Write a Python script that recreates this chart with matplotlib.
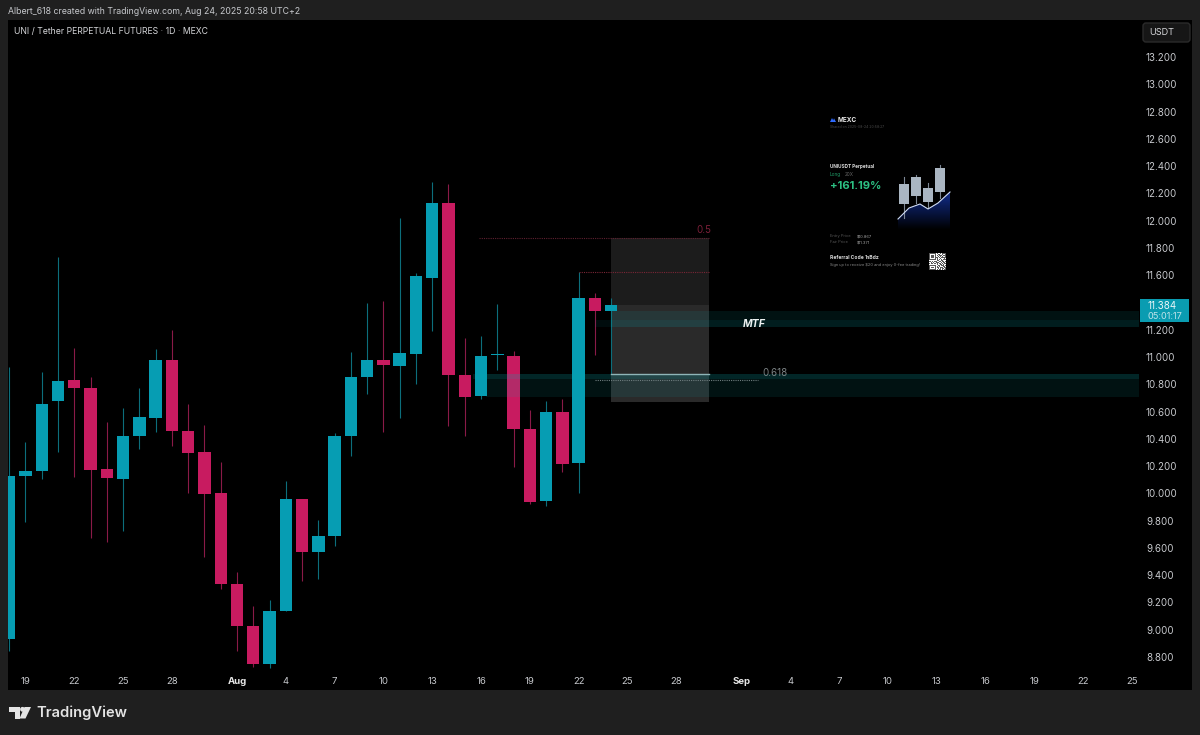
import matplotlib
matplotlib.use("Agg")
import matplotlib.pyplot as plt
import numpy as np
from matplotlib.patches import Rectangle, Polygon, FancyBboxPatch

plt.rcParams['font.family'] = ['Inter', 'DejaVu Sans']

# ---- data ----
opens = [8.932,10.127,10.167,10.677,10.829,10.775,10.176,10.108,10.421,10.555,10.981,10.455,10.301,10.000,9.335,9.027,8.749,9.137,
         9.956,9.570,9.687,10.421,10.856,10.976,10.934,11.022,11.582,12.129,10.870,10.712,11.012,11.010,10.475,9.941,10.599,10.220,11.433,11.337]
highs = [10.929,10.379,10.888,11.736,11.064,10.851,10.523,10.626,10.770,11.059,11.198,10.655,10.501,10.233,9.421,9.174,9.218,10.091,
         9.956,9.805,10.443,11.039,11.394,11.408,12.017,11.614,12.281,12.269,11.137,11.152,11.386,11.044,10.611,10.675,10.690,11.621,11.472,11.430]
lows = [8.844,9.792,10.105,10.306,10.118,9.675,9.641,9.724,10.325,10.452,10.350,10.005,9.536,9.299,8.844,8.727,8.719,9.137,
        9.360,9.374,9.614,10.274,10.729,10.450,10.555,10.805,11.193,10.497,10.421,10.692,10.905,10.196,9.920,9.905,10.157,10.000,11.012,10.875]
closes = [10.127,10.167,10.655,10.827,10.775,10.169,10.115,10.421,10.558,10.978,10.455,10.299,9.993,9.338,9.030,8.751,9.137,9.956,
          9.568,9.687,10.421,10.856,10.976,10.941,11.029,11.594,12.127,10.868,10.709,11.007,11.020,10.475,9.939,10.597,10.218,11.433,11.337,11.384]

price_ticks = [8.8,9.0,9.2,9.4,9.6,9.8,10.0,10.2,10.4,10.6,10.8,11.0,11.2,11.6,11.8,12.0,12.2,12.4,12.6,12.8,13.0,13.2]
date_ticks = [1,4,7,10,14,17,20,23,26,29,32,35,38,41,45,48,51,54,57,60,63,66,69]
date_labels = ['19','22','25','28','Aug','4','7','10','13','16','19','22','25','28','Sep','4','7','10','13','16','19','22','25']
last_price = 11.384
countdown = '05:01:17'

fib_05 = 11.873
fib_618 = 10.828
red_level = 11.620
box_top, box_mid, box_bottom = 11.873, 11.384, 10.670
entry_level = 10.875
mtf_zone = (11.220, 11.271, 11.337)
low_zone = (10.707, 10.839, 10.875)

W, H = 1200, 735
BG = '#1f1f1f'
TEAL, PINK = '#069db3', '#c81b60'
TEAL_W, PINK_W = '#0c6e7c', '#8a1a48'
TXT = '#c6c8cc'

fig = plt.figure(figsize=(W/100, H/100), dpi=100, facecolor=BG)
fig.add_artist(Rectangle((8/W, (H-690)/H), (1192-8)/W, 670/H, transform=fig.transFigure,
                         facecolor='black', edgecolor='none', zorder=-5))

ax = fig.add_axes([8/W, (H-690)/H, (1139-8)/W, 670/H], facecolor='black')
PX_DAY, PX_UNIT, X0 = 16.27, 136.36, 9.2
ax.set_xlim((8-X0)/PX_DAY, (1139-X0)/PX_DAY)
ax.set_ylim(8.8-(690-657)/PX_UNIT, 8.8+(657-20)/PX_UNIT)
for s in ax.spines.values():
    s.set_visible(False)

idx = np.arange(len(opens))
o, h, l, c = map(np.array, (opens, highs, lows, closes))
up = (c >= o)
ax.vlines(idx[up], l[up], h[up], color=TEAL_W, lw=0.8, zorder=2)
ax.vlines(idx[~up], l[~up], h[~up], color=PINK_W, lw=0.8, zorder=2)
bw = 12.4/PX_DAY
ax.bar(idx[up], (c-o)[up], bottom=o[up], width=bw, color=TEAL, linewidth=0, zorder=3)
ax.bar(idx[~up], (c-o)[~up], bottom=o[~up], width=bw, color=PINK, linewidth=0, zorder=3)

xr = ax.get_xlim()[1]
# position tool (behind the candles)
ax.add_patch(Rectangle((37, box_mid), 6.02, box_top-box_mid, fc='#1c1c1c', ec='none', zorder=1))
ax.add_patch(Rectangle((37, box_bottom), 6.02, box_mid-box_bottom, fc='#2a2a2a', ec='none', zorder=1))
# zones
zc = '#0aa5ad'
ax.add_patch(Rectangle((37, mtf_zone[0]), xr-37, mtf_zone[2]-mtf_zone[0], fc=zc, ec='none', alpha=0.11, zorder=5))
ax.add_patch(Rectangle((36, mtf_zone[0]), xr-36, mtf_zone[1]-mtf_zone[0], fc=zc, ec='none', alpha=0.08, zorder=5))
ax.add_patch(Rectangle((29.3, low_zone[0]), xr-29.3, low_zone[2]-low_zone[0], fc=zc, ec='none', alpha=0.11, zorder=5))
ax.add_patch(Rectangle((28.5, low_zone[1]), xr-28.5, low_zone[2]-low_zone[1], fc=zc, ec='none', alpha=0.14, zorder=5))
# levels
ax.plot([28.9, 43.02], [fib_05, fib_05], color='#5f2030', lw=0.8, ls=(0, (1, 1)), zorder=6)
ax.plot([35, 43.02], [red_level, red_level], color='#7a2636', lw=0.8, ls=(0, (1, 1)), zorder=6)
ax.plot([36, 46], [fib_618, fib_618], color='#6f7d7f', lw=0.8, ls=(0, (1, 1)), zorder=6)
ax.plot([37, 43.02], [entry_level, entry_level], color='#8fb5b8', lw=1.0, zorder=6)
ax.text(42.7, fib_05+0.055, '0.5', color='#7a1f38', fontsize=7, ha='center', va='center', zorder=7)
ax.text(47.05, 10.885, '0.618', color='#7b8284', fontsize=7, ha='center', va='center', zorder=7)
ax.text(45.8, 11.245, 'MTF', color='#eef2f2', fontsize=7.5, style='italic', fontweight='bold',
        ha='center', va='center', zorder=7)

# axes ticks
ax.yaxis.tick_right()
ax.set_yticks(price_ticks)
ax.set_yticklabels([f'{p:.3f}' for p in price_ticks])
ax.tick_params(axis='y', length=0, pad=5.0, labelsize=7.0, labelcolor=TXT)
ax.set_xticks(date_ticks)
ax.set_xticklabels(date_labels)
ax.tick_params(axis='x', length=0, direction='in', pad=-9.6, labelsize=6.9, labelcolor=TXT)
for t, s in zip(ax.get_xticklabels(), date_labels):
    if s in ('Aug', 'Sep'):
        t.set_fontweight('bold')
        t.set_color('#e6e6e6')
    t.set_zorder(10)

# overlay in screen pixels for interface furniture
ov = fig.add_axes([0, 0, 1, 1], facecolor='none')
ov.set_xlim(0, W); ov.set_ylim(H, 0); ov.axis('off')

ov.text(8, 11.5, 'Albert_618 created with TradingView.com, Aug 24, 2025 20:58 UTC+2', color=TXT, fontsize=6.3, va='center')
ov.text(14, 31.5, 'UNI / Tether PERPETUAL FUTURES · 1D · MEXC', color='#d4d5d8', fontsize=6.25, va='center')

ov.add_patch(FancyBboxPatch((1143, 23), 47, 19, boxstyle='round,pad=0,rounding_size=3', fc='#161616', ec='#2b2b2b', lw=1))
ov.text(1149, 32.5, 'USDT', color='#d4d5d8', fontsize=6.6, va='center')

ov.add_patch(Rectangle((1140, 299), 49, 22.7, fc='#0a9cb1', ec='none'))
ov.text(1147, 305.5, f'{last_price:.3f}', color='#eaf6f8', fontsize=7.0, va='center')
ov.text(1147, 316, countdown, color='#bfe3ea', fontsize=6.6, va='center')

# TradingView logo
ov.add_patch(Polygon([(9, 707), (20, 707), (20, 718.5), (14.5, 718.5), (14.5, 712), (9, 712)], fc='#e4e4e4', ec='none'))
ov.add_patch(Polygon([(24.5, 707), (31, 707), (25.5, 718.5), (19.5, 718.5)], fc='#e4e4e4', ec='none'))
ov.add_patch(plt.Circle((22.5, 709.3), 2.4, fc='#e4e4e4', ec='none'))
ov.text(36, 713, 'TradingView', color='#e4e4e4', fontsize=10.6, fontweight='semibold', va='center')

# share card
ov.add_patch(Polygon([(830, 122), (832, 118), (834, 122)], fc='#2f6bff', ec='none'))
ov.add_patch(Polygon([(832.5, 122), (834, 118.3), (836, 122)], fc='#2f6bff', ec='none'))
ov.text(838, 120, 'MEXC', color='#e8e8e8', fontsize=4.6, fontweight='bold', va='center')
ov.text(830, 127, 'Shared on 2025-08-24 20:58:27', color='#4a4a4a', fontsize=2.5, va='center')
ov.text(830, 166, 'UNIUSDT Perpetual', color='#d8d8d8', fontsize=3.4, fontweight='bold', va='center')
ov.text(830, 174, 'Long', color='#1f9d68', fontsize=3.4, va='center')
ov.text(845, 174, '20X', color='#666666', fontsize=3.4, va='center')
ov.text(830, 186, '+161.19%', color='#2cc083', fontsize=8.1, fontweight='bold', va='center')
ov.text(830, 236, 'Entry Price', color='#555555', fontsize=2.9, va='center')
ov.text(857, 236, '$10.867', color='#a8a8a8', fontsize=2.9, va='center')
ov.text(830, 242, 'Fair Price', color='#555555', fontsize=2.9, va='center')
ov.text(857, 242, '$11.371', color='#a8a8a8', fontsize=2.9, va='center')
ov.text(830, 257.5, 'Referral Code', color='#d8d8d8', fontsize=3.6, fontweight='bold', va='center')
ov.text(865, 257.5, '1nBdz', color='#d8d8d8', fontsize=3.6, fontweight='bold', va='center')
ov.text(830, 265, 'Sign up to receive $20 and enjoy 0-fee trading!', color='#8a8a8a', fontsize=2.9, va='center')

# card illustration
area = Polygon([(898, 219), (909, 208), (920, 204), (928, 209), (938, 203), (950, 192), (950, 230), (898, 230)],
               fc='none', ec='none')
ov.add_patch(area)
grad = np.zeros((40, 1, 4))
grad[..., 0] = 0.07; grad[..., 1] = 0.18; grad[..., 2] = 0.55
grad[:, 0, 3] = np.linspace(1, 0, 40)
im = ov.imshow(grad, extent=(898, 950, 230, 192), aspect='auto', zorder=1)
im.set_clip_path(area)
ov.set_xlim(0, W); ov.set_ylim(H, 0)
for cx, wt, bt, bb, wb in [(904, 177, 184, 204, 218), (916, 175, 177, 196, 203), (928, 183, 188, 202, 208), (940, 165, 168, 192, 198)]:
    ov.plot([cx, cx], [wt, wb], color='#7d8794', lw=0.8, zorder=2)
    ov.add_patch(Rectangle((cx-5, bt), 10, bb-bt, fc='#aab6c2', ec='none', zorder=3))
ov.plot([898, 909, 920, 928, 938, 950], [219, 208, 204, 209, 203, 192], color='#cfdcf5', lw=0.8, zorder=4)

# QR block
qr_rows = [
    '11111110100101111',
    '10000010011001001',
    '10111010101110111',
    '10111010010101001',
    '10111011101011111',
    '10000010100100010',
    '11111110101010111',
    '00000000110011000',
    '11010111001101101',
    '00101001110010110',
    '10110110101101011',
    '00000000100110100',
    '11111110011011101',
    '10000010101000110',
    '10111010110111011',
    '10000010010101101',
    '11111110101101011',
]
qr = 1 - np.array([[float(ch) for ch in r] for r in qr_rows])
ov.imshow(qr, extent=(929, 946, 270, 253), cmap='gray', vmin=-0.55, vmax=1.0, aspect='auto', interpolation='bilinear', zorder=3)
ov.set_xlim(0, W); ov.set_ylim(H, 0)

fig.savefig('out.png', dpi=100, facecolor=BG)
